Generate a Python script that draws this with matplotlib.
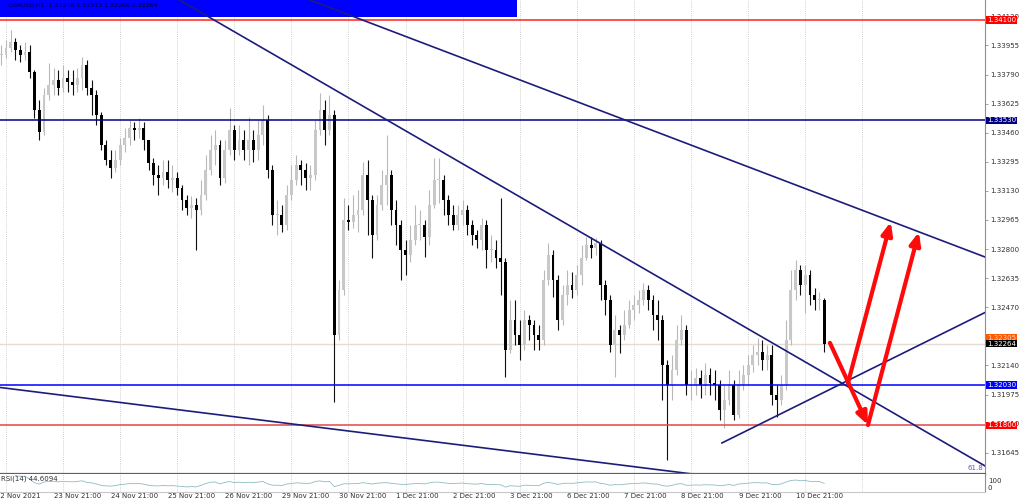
import numpy as np
import pandas as pd
import matplotlib
matplotlib.use("Agg")
import matplotlib.pyplot as plt
from matplotlib.patches import Rectangle, FancyArrowPatch
from matplotlib.transforms import blended_transform_factory

# GBPUSD 2-hour bars (open = previous close)
closes = [
    1.33901, 1.33941, 1.33975, 1.33929, 1.33901, 1.33918, 1.33805, 1.33589, 1.33464, 1.33674,
    1.33731, 1.33759, 1.33714, 1.33771, 1.33748, 1.33731, 1.33771, 1.33844, 1.33714, 1.33674,
    1.33561, 1.33391, 1.33305, 1.33260, 1.33305, 1.33391, 1.33430, 1.33487, 1.33476, 1.33487,
    1.33419, 1.33288, 1.33220, 1.33203, 1.33237, 1.33192, 1.33203, 1.33147, 1.33079, 1.33033,
    1.33050, 1.33022, 1.33107, 1.33249, 1.33362, 1.33391, 1.33203, 1.33362, 1.33476, 1.33362,
    1.33419, 1.33362, 1.33419, 1.33362, 1.33447, 1.33532, 1.33249, 1.32994, 1.32994, 1.32937,
    1.33107, 1.33192, 1.33277, 1.33249, 1.33203, 1.33220, 1.33476, 1.33589, 1.33476, 1.33561,
    1.32313, 1.32568, 1.32965, 1.32954, 1.32994, 1.33022, 1.33220, 1.33079, 1.32880, 1.33050,
    1.33164, 1.33220, 1.33022, 1.32937, 1.32795, 1.32767, 1.32852, 1.32937, 1.32937, 1.32869,
    1.33050, 1.33192, 1.33192, 1.33079, 1.32994, 1.32937, 1.32994, 1.33022, 1.32937, 1.32880,
    1.32852, 1.32937, 1.32795, 1.32795, 1.32750, 1.32727, 1.32228, 1.32398, 1.32313, 1.32256,
    1.32398, 1.32370, 1.32313, 1.32285, 1.32625, 1.32767, 1.32625, 1.32398, 1.32540, 1.32596,
    1.32568, 1.32653, 1.32750, 1.32823, 1.32806, 1.32835, 1.32596, 1.32511, 1.32256, 1.32341,
    1.32313, 1.32370, 1.32455, 1.32483, 1.32511, 1.32568, 1.32511, 1.32426, 1.32398, 1.32143,
    1.32029, 1.32114, 1.32285, 1.32341, 1.32029, 1.32029, 1.32069, 1.32029, 1.32086, 1.32041,
    1.32029, 1.31887, 1.31944, 1.32029, 1.31859, 1.32029, 1.32086, 1.32143, 1.32199, 1.32216,
    1.32171, 1.32199, 1.31973, 1.31944, 1.32029, 1.32285, 1.32568, 1.32682, 1.32596, 1.32653,
    1.32540, 1.32511, 1.32511, 1.32264,
]
highs = [
    1.33958, 1.33986, 1.34043, 1.33997, 1.33958, 1.33975, 1.33958, 1.33816, 1.33646, 1.33714,
    1.33856, 1.33827, 1.33816, 1.33844, 1.33816, 1.33816, 1.33827, 1.33890, 1.33873, 1.33759,
    1.33703, 1.33578, 1.33419, 1.33362, 1.33362, 1.33430, 1.33487, 1.33532, 1.33521, 1.33544,
    1.33521, 1.33419, 1.33317, 1.33277, 1.33305, 1.33305, 1.33277, 1.33237, 1.33164, 1.33107,
    1.33101, 1.33090, 1.33192, 1.33334, 1.33447, 1.33476, 1.33419, 1.33419, 1.33600, 1.33504,
    1.33504, 1.33476, 1.33549, 1.33476, 1.33532, 1.33617, 1.33561, 1.33277, 1.33079, 1.33050,
    1.33164, 1.33277, 1.33334, 1.33305, 1.33288, 1.33277, 1.33532, 1.33686, 1.33646, 1.33674,
    1.33589, 1.32625, 1.33090, 1.33050, 1.33107, 1.33135, 1.33294, 1.33305, 1.33107, 1.33107,
    1.33249, 1.33447, 1.33249, 1.33079, 1.32965, 1.32852, 1.32937, 1.33050, 1.33022, 1.32965,
    1.33135, 1.33317, 1.33317, 1.33220, 1.33107, 1.33050, 1.33050, 1.33079, 1.33050, 1.32965,
    1.32908, 1.32977, 1.32965, 1.32880, 1.32852, 1.33090, 1.32750, 1.32511, 1.32511, 1.32398,
    1.32455, 1.32426, 1.32398, 1.32370, 1.32682, 1.32835, 1.32795, 1.32653, 1.32596, 1.32682,
    1.32670, 1.32710, 1.32823, 1.32869, 1.32869, 1.32863, 1.32852, 1.32625, 1.32540, 1.32426,
    1.32370, 1.32455, 1.32511, 1.32540, 1.32568, 1.32608, 1.32596, 1.32540, 1.32511, 1.32426,
    1.32171, 1.32199, 1.32370, 1.32426, 1.32370, 1.32114, 1.32126, 1.32114, 1.32154, 1.32126,
    1.32114, 1.32058, 1.32029, 1.32114, 1.32058, 1.32114, 1.32143, 1.32199, 1.32256, 1.32296,
    1.32285, 1.32256, 1.32256, 1.32029, 1.32086, 1.32398, 1.32682, 1.32738, 1.32710, 1.32710,
    1.32682, 1.32579, 1.32557, 1.32523,
]
lows = [
    1.33844, 1.33884, 1.33918, 1.33873, 1.33861, 1.33873, 1.33771, 1.33544, 1.33419, 1.33447,
    1.33646, 1.33674, 1.33674, 1.33691, 1.33691, 1.33674, 1.33691, 1.33703, 1.33674, 1.33561,
    1.33504, 1.33362, 1.33277, 1.33203, 1.33237, 1.33277, 1.33351, 1.33391, 1.33419, 1.33430,
    1.33362, 1.33249, 1.33164, 1.33107, 1.33164, 1.33147, 1.33124, 1.33107, 1.33022, 1.32994,
    1.32977, 1.32795, 1.32994, 1.33079, 1.33220, 1.33277, 1.33164, 1.33175, 1.33334, 1.33305,
    1.33334, 1.33305, 1.33277, 1.33294, 1.33305, 1.33391, 1.33203, 1.32937, 1.32880, 1.32897,
    1.32908, 1.33079, 1.33164, 1.33164, 1.33135, 1.33135, 1.33192, 1.33447, 1.33391, 1.33447,
    1.31933, 1.32285, 1.32540, 1.32908, 1.32920, 1.32897, 1.32994, 1.32880, 1.32750, 1.32852,
    1.33022, 1.33050, 1.32937, 1.32823, 1.32625, 1.32653, 1.32727, 1.32823, 1.32852, 1.32755,
    1.32823, 1.33033, 1.33062, 1.32994, 1.32937, 1.32908, 1.32908, 1.32937, 1.32880, 1.32823,
    1.32806, 1.32795, 1.32693, 1.32727, 1.32693, 1.32540, 1.32075, 1.32211, 1.32256, 1.32171,
    1.32228, 1.32285, 1.32228, 1.32228, 1.32256, 1.32596, 1.32528, 1.32341, 1.32370, 1.32483,
    1.32523, 1.32540, 1.32596, 1.32738, 1.32750, 1.32767, 1.32511, 1.32426, 1.32216, 1.32075,
    1.32211, 1.32285, 1.32353, 1.32398, 1.32438, 1.32483, 1.32455, 1.32341, 1.32285, 1.31944,
    1.31604, 1.31944, 1.32086, 1.32256, 1.31973, 1.31944, 1.31973, 1.31956, 1.31973, 1.31973,
    1.31944, 1.31831, 1.31785, 1.31916, 1.31831, 1.31842, 1.32001, 1.32029, 1.32103, 1.32143,
    1.32114, 1.32114, 1.31916, 1.31848, 1.31916, 1.32001, 1.32256, 1.32511, 1.32540, 1.32438,
    1.32483, 1.32455, 1.32455, 1.32216,
]

day_labels = ["22 Nov 2021", "23 Nov 21:00", "24 Nov 21:00", "25 Nov 21:00", "26 Nov 21:00",
              "29 Nov 21:00", "30 Nov 21:00", "1 Dec 21:00", "2 Dec 21:00", "3 Dec 21:00",
              "6 Dec 21:00", "7 Dec 21:00", "8 Dec 21:00", "9 Dec 21:00", "10 Dec 21:00"]
# 1.32305 sits under the ask tag, which carries that text itself
price_ticks = [1.34120, 1.33955, 1.33790, 1.33625, 1.33460, 1.33295, 1.33130, 1.32965,
               1.32800, 1.32635, 1.32470, 1.32140, 1.31975, 1.31810, 1.31645]

# horizontal levels: price, line colour, tag colour
levels = [(1.34100, "#ff2020", "#ff0000"),
          (1.33530, "#000080", "#000080"),
          (1.32030, "#0000ff", "#0000ff"),
          (1.31800, "#e04848", "#ff0000")]

# trend lines as (bar, price) anchors
trend_a = [(81.1, 1.33532), (138.5, 1.32636)]
trend_b = [(64.9, 1.34213), (206.8, 1.32755)]
trend_c = [(-0.25, 1.32015), (138.5, 1.31547)]
support_ray = [(151.5, 1.31700), (197.3, 1.32313)]

# red scenario arrows: start -> tip
arrows = [((174.2, 1.32268), (182.2, 1.31802)),
          ((178.0, 1.32041), (187.0, 1.32954)),
          ((182.2, 1.31802), (192.9, 1.32897))]

bid = 1.32264
ask = 1.32298

closes = np.array(closes)
highs = np.array(highs)
lows = np.array(lows)
opens = np.concatenate([[closes[0]], closes[:-1]])
x = np.arange(len(closes))

xlim = (-0.25, 206.8)
ylim = (1.31524, 1.34213)

fig = plt.figure(figsize=(10.24, 5.0), dpi=100)
ax = fig.add_axes([0, 26 / 500, 985 / 1024, 474 / 500])
rax = fig.add_axes([0, 8 / 500, 985 / 1024, 18 / 500])

for a in (ax, rax):
    a.set_xlim(*xlim)
    a.set_xticks([])
    for s in ("top", "left"):
        a.spines[s].set_visible(False)
    a.spines["right"].set_color("#909090")
    a.spines["right"].set_linewidth(0.8)
    # daily grid
    for g in range(1, 182, 12):
        a.axvline(g, color="#c4c4c4", lw=0.6, ls=(0, (1, 1.5)), zorder=0.5)

ax.set_ylim(*ylim)
ax.spines["bottom"].set_color("#606060")
ax.spines["bottom"].set_linewidth(1.6)
ax.yaxis.tick_right()
ax.set_yticks(price_ticks)
ax.set_yticklabels([f"{p:.5f}" for p in price_ticks])
ax.tick_params(axis="y", labelsize=5, length=2, width=0.6, color="#909090",
               labelcolor="#303030", pad=2)

# header box
ax.add_patch(Rectangle((0, 1 - 17 / 474), 517 / 985, 17 / 474, transform=ax.transAxes,
                       facecolor="#0000ff", edgecolor="none", zorder=1.2))
ax.text(8 / 985, 1 - 5.5 / 474, "GBPUSD,H1  1.32245 1.32313 1.32200 1.32264",
        transform=ax.transAxes, fontsize=4.5, color="#000030", va="center", ha="left", zorder=1.3)

# bid line
ax.axhline(bid, color="#e4dcd2", lw=1.0, zorder=0.8)

# candles
up = closes >= opens
ax.vlines(x[up], lows[up], highs[up], color="#b8b8b8", lw=0.8, zorder=1)
ax.vlines(x[~up], lows[~up], highs[~up], color="#101010", lw=0.8, zorder=1)
body = np.maximum(np.abs(closes - opens), 0.00004)
ax.bar(x, body, bottom=np.minimum(opens, closes), width=0.6,
       color=np.where(up, "#c8c8c8", "#000000"), linewidth=0, zorder=1.1)

# levels
for price, lc, tc in levels:
    ax.axhline(price, color=lc, lw=1.1, zorder=2)

# trend lines
navy = "#1c1c7c"
for (p1, p2) in (trend_a, trend_b, trend_c):
    ax.axline(p1, p2, color=navy, lw=1.2, zorder=2.1)
(sx, sp), (ex, ep) = support_ray
slope = (ep - sp) / (ex - sx)
ax.plot([sx, xlim[1] + 2], [sp, sp + slope * (xlim[1] + 2 - sx)], color=navy, lw=1.2, zorder=2.1)

for start, tip in arrows:
    ax.add_patch(FancyArrowPatch(start, tip, arrowstyle="-|>,head_length=0.75,head_width=0.32",
                                 mutation_scale=10, color="#ff0a0a", lw=3.0,
                                 shrinkA=0, shrinkB=0, zorder=3))

ax.text(203.2, 1.31559, "61.8", fontsize=5, color="#5a5ad0", ha="left", va="center")


# price tags on the right scale
def tag(price, label, fc, tc="white", z=4):
    ax.text(1.002, price, label, transform=blended_transform_factory(ax.transAxes, ax.transData),
            fontsize=5, color=tc, ha="left", va="center", clip_on=False, zorder=z,
            bbox=dict(boxstyle="square,pad=0.12", fc=fc, ec="none"))


for price, lc, tc in levels:
    tag(price, f"{price:.5f}", tc)
tag(ask, "1.32305", "#ff5a00", tc="#ffd8c0", z=4)
tag(bid, f"{bid:.5f}", "#000000", z=5)

# RSI(14)
s = pd.Series(closes)
d = s.diff()
gain = d.clip(lower=0).ewm(alpha=1 / 14, adjust=False).mean()
loss = (-d.clip(upper=0)).ewm(alpha=1 / 14, adjust=False).mean()
rsi = 100 - 100 / (1 + gain / loss.replace(0, np.nan))

rax.set_ylim(0, 100)
rax.set_yticks([])
rax.spines["bottom"].set_color("#c8c8c8")
rax.spines["bottom"].set_linewidth(0.8)
rax.plot(x, rsi, color="#8fbcc4", lw=0.6)
rax.text(0.001, 0.72, "RSI(14) 44.6094", transform=rax.transAxes, fontsize=5,
         color="#303030", va="center", ha="left")
rax.text(1.003, 0.62, "100", transform=rax.transAxes, fontsize=5, color="#303030",
         va="center", ha="left", clip_on=False)
rax.text(1.003, 0.22, "0", transform=rax.transAxes, fontsize=5, color="#303030",
         va="center", ha="left", clip_on=False)

trans = blended_transform_factory(rax.transData, rax.transAxes)
for k, lab in enumerate(day_labels):
    rax.text(12 * k - 1, -0.08, lab, transform=trans, fontsize=5, color="#303030",
             ha="left", va="top", clip_on=False)

fig.savefig("out.png", dpi=100)
